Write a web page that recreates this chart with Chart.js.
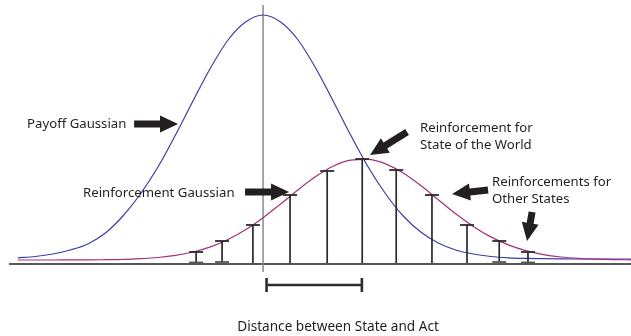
<!DOCTYPE html>
<html>
<head>
<meta charset="utf-8">
<script src="https://cdn.jsdelivr.net/npm/chart.js@4/dist/chart.umd.min.js"></script>
<style>
html,body{margin:0;padding:0;background:#ffffff;}
#wrap{width:631px;height:336px;position:relative;}
</style>
</head>
<body>
<div id="wrap"><canvas id="c" width="631" height="336"></canvas></div>
<script>
// ---- data (x: distance units, 0 = act; y: reinforcement / payoff level) ----
const curveX = [-7,-6.5,-6,-5.5,-5,-4.5,-4,-3.5,-3,-2.5,-2,-1.5,-1,-0.5,0,0.5,1,1.5,2,2.5,3,3.5,4,4.5,5,5.5,6,6.5,7,7.5,8,8.5,9,9.5,10,10.5];
const payoffGaussian = [6.2,7.5,10,14,20,31,48,70,97,129,163,196,224,242,249,242,224,196,163,129,97,70,48,32,21,14,10,7.5,6.2,5.6,5.3,5.1,5,5,5,5];
const reinforcementGaussian = [4,4,4,4.1,4.1,4.3,4.6,5.3,6.5,8.6,12,17.1,24.5,34.2,46.3,60,74.2,87.4,97.8,103.8,104.7,100.1,90.9,78.4,64.3,50.2,37.6,27.1,19.1,13.3,9.4,7,5.6,4.8,4.4,4.2];
const stateX = [-1.91,-1.17,-0.29,0.77,1.83,2.83,3.80,4.82,5.82,6.74,7.56];
const reinforcementTop = [12,23,39,69,93,105,94,69,39,23,12];
const reinforcementBase = [1.5,2,0,0,0,0,0,0,0,2,1.5];
const actX = 0;
const worldStateX = 2.82;
const labelTexts = {
  payoff: ["Payoff Gaussian"],
  reinf: ["Reinforcement Gaussian"],
  world: ["Reinforcement for", "State of the World"],
  others: ["Reinforcements for", "Other States"],
  axis: ["Distance between State and Act"]
};

// ---- styles / layout ----
const BLUE = '#3b3fa3';
const PURPLE = '#a3317b';
const INK = '#231f20';
const FONT = '13.2px "Noto Sans"';
const AXIS_FONT = '13.6px "Noto Sans"';

// annotation placement in data units (x, y)
const labelPos = {
  payoff: {x:-6.735, y:140, align:'left'},
  reinf:  {x:-5.137, y:71, align:'left'},
  world:  {x:4.48, y:136, align:'left'},
  others: {x:6.535, y:82, align:'left'},
  axis:   {x:2.14, y:-63, align:'center'}
};
const arrowPos = [
  {from:[-3.68,140], to:[-2.426,140]},
  {from:[-0.514,72], to:[0.742,72]},
  {from:[4.11,132], to:[3.054,109]},
  {from:[6.421,74], to:[5.394,70]},
  {from:[7.677,52], to:[7.534,23]}
];

// build datasets from the arrays
const payoffData = curveX.map((x,i)=>({x, y:payoffGaussian[i]}));
const reinfData = curveX.map((x,i)=>({x, y:reinforcementGaussian[i]}));
const stemData = [];
stateX.forEach((x,i)=>{
  stemData.push({x, y:reinforcementBase[i]});
  stemData.push({x, y:reinforcementTop[i]});
  stemData.push({x, y:null});
});
const topCaps = stateX.map((x,i)=>({x, y:reinforcementTop[i]}));
const baseCaps = stateX.map((x,i)=>({x, y:reinforcementBase[i]}));
const actLine = [{x:actX, y:-8},{x:actX, y:259}];
const bracket = [
  {x:actX+0.1, y:-14},{x:actX+0.1, y:-28},{x:actX+0.1, y:null},
  {x:actX+0.1, y:-21},{x:worldStateX, y:-21},{x:worldStateX, y:null},
  {x:worldStateX, y:-14},{x:worldStateX, y:-28}
];

function drawArrow(ctx, x1, y1, x2, y2){
  const dx = x2-x1, dy = y2-y1, L = Math.hypot(dx,dy);
  const ux = dx/L, uy = dy/L, nx = -uy, ny = ux;
  const shaft = 7, headLen = 18, headW = 17;
  const bx = x2 - ux*headLen, by = y2 - uy*headLen;
  ctx.beginPath();
  ctx.moveTo(x1 + nx*shaft/2, y1 + ny*shaft/2);
  ctx.lineTo(bx + nx*shaft/2, by + ny*shaft/2);
  ctx.lineTo(bx + nx*headW/2, by + ny*headW/2);
  ctx.lineTo(x2, y2);
  ctx.lineTo(bx - nx*headW/2, by - ny*headW/2);
  ctx.lineTo(bx - nx*shaft/2, by - ny*shaft/2);
  ctx.lineTo(x1 - nx*shaft/2, y1 - ny*shaft/2);
  ctx.closePath();
  ctx.fill();
}

const annot = {
  id:'annot',
  beforeDatasetsDraw(chart){
    const {ctx, chartArea, scales:{x,y}} = chart;
    ctx.save();
    ctx.strokeStyle = INK;
    ctx.lineWidth = 1.6;
    ctx.beginPath();
    ctx.moveTo(chartArea.left, y.getPixelForValue(0));
    ctx.lineTo(chartArea.right, y.getPixelForValue(0));
    ctx.stroke();
    ctx.restore();
  },
  afterDatasetsDraw(chart){
    const {ctx, scales:{x,y}} = chart;
    const px = v=>x.getPixelForValue(v), py = v=>y.getPixelForValue(v);
    ctx.save();
    ctx.fillStyle = INK;
    arrowPos.forEach(a=>drawArrow(ctx, px(a.from[0]), py(a.from[1]), px(a.to[0]), py(a.to[1])));
    ctx.textBaseline = 'middle';
    Object.keys(labelTexts).forEach(k=>{
      const p = labelPos[k];
      ctx.font = k === 'axis' ? AXIS_FONT : FONT;
      ctx.textAlign = p.align;
      labelTexts[k].forEach((t,j)=>ctx.fillText(t, px(p.x), py(p.y) + j*17));
    });
    ctx.restore();
  }
};

new Chart(document.getElementById('c'), {
  type:'line',
  data:{
    datasets:[
      {data:topCaps, showLine:false, pointStyle:'line', pointRadius:7, pointHoverRadius:7,
       pointBorderColor:'#2b2b2b', pointBorderWidth:1.8, order:0},
      {data:baseCaps, showLine:false, pointStyle:'line', pointRadius:7, pointHoverRadius:7,
       pointBorderColor:'#555555', pointBorderWidth:1.8, order:0},
      {data:stemData, borderColor:'#2b2b2b', borderWidth:1.7, pointRadius:0, tension:0, spanGaps:false, order:1},
      {data:reinfData, borderColor:PURPLE, borderWidth:1.2, pointRadius:0, cubicInterpolationMode:'monotone', clip:false, order:2},
      {data:payoffData, borderColor:BLUE, borderWidth:1.2, pointRadius:0, cubicInterpolationMode:'monotone', clip:false, order:2},
      {data:actLine, borderColor:'#8a8a8a', borderWidth:1.5, pointRadius:0, tension:0, clip:false, order:3},
      {data:bracket, borderColor:'#2e2e2e', borderWidth:2.6, pointRadius:0, tension:0, spanGaps:false, clip:false, order:1}
    ]
  },
  options:{
    responsive:false,
    animation:false,
    devicePixelRatio:1,
    events:[],
    layout:{autoPadding:false, padding:{left:9, right:0, top:14, bottom:72}},
    plugins:{legend:{display:false}, tooltip:{enabled:false}},
    scales:{
      x:{type:'linear', min:-7.25, max:10.5, display:false},
      y:{type:'linear', min:0, max:250, display:false}
    }
  },
  plugins:[annot]
});
</script>
</body>
</html>
